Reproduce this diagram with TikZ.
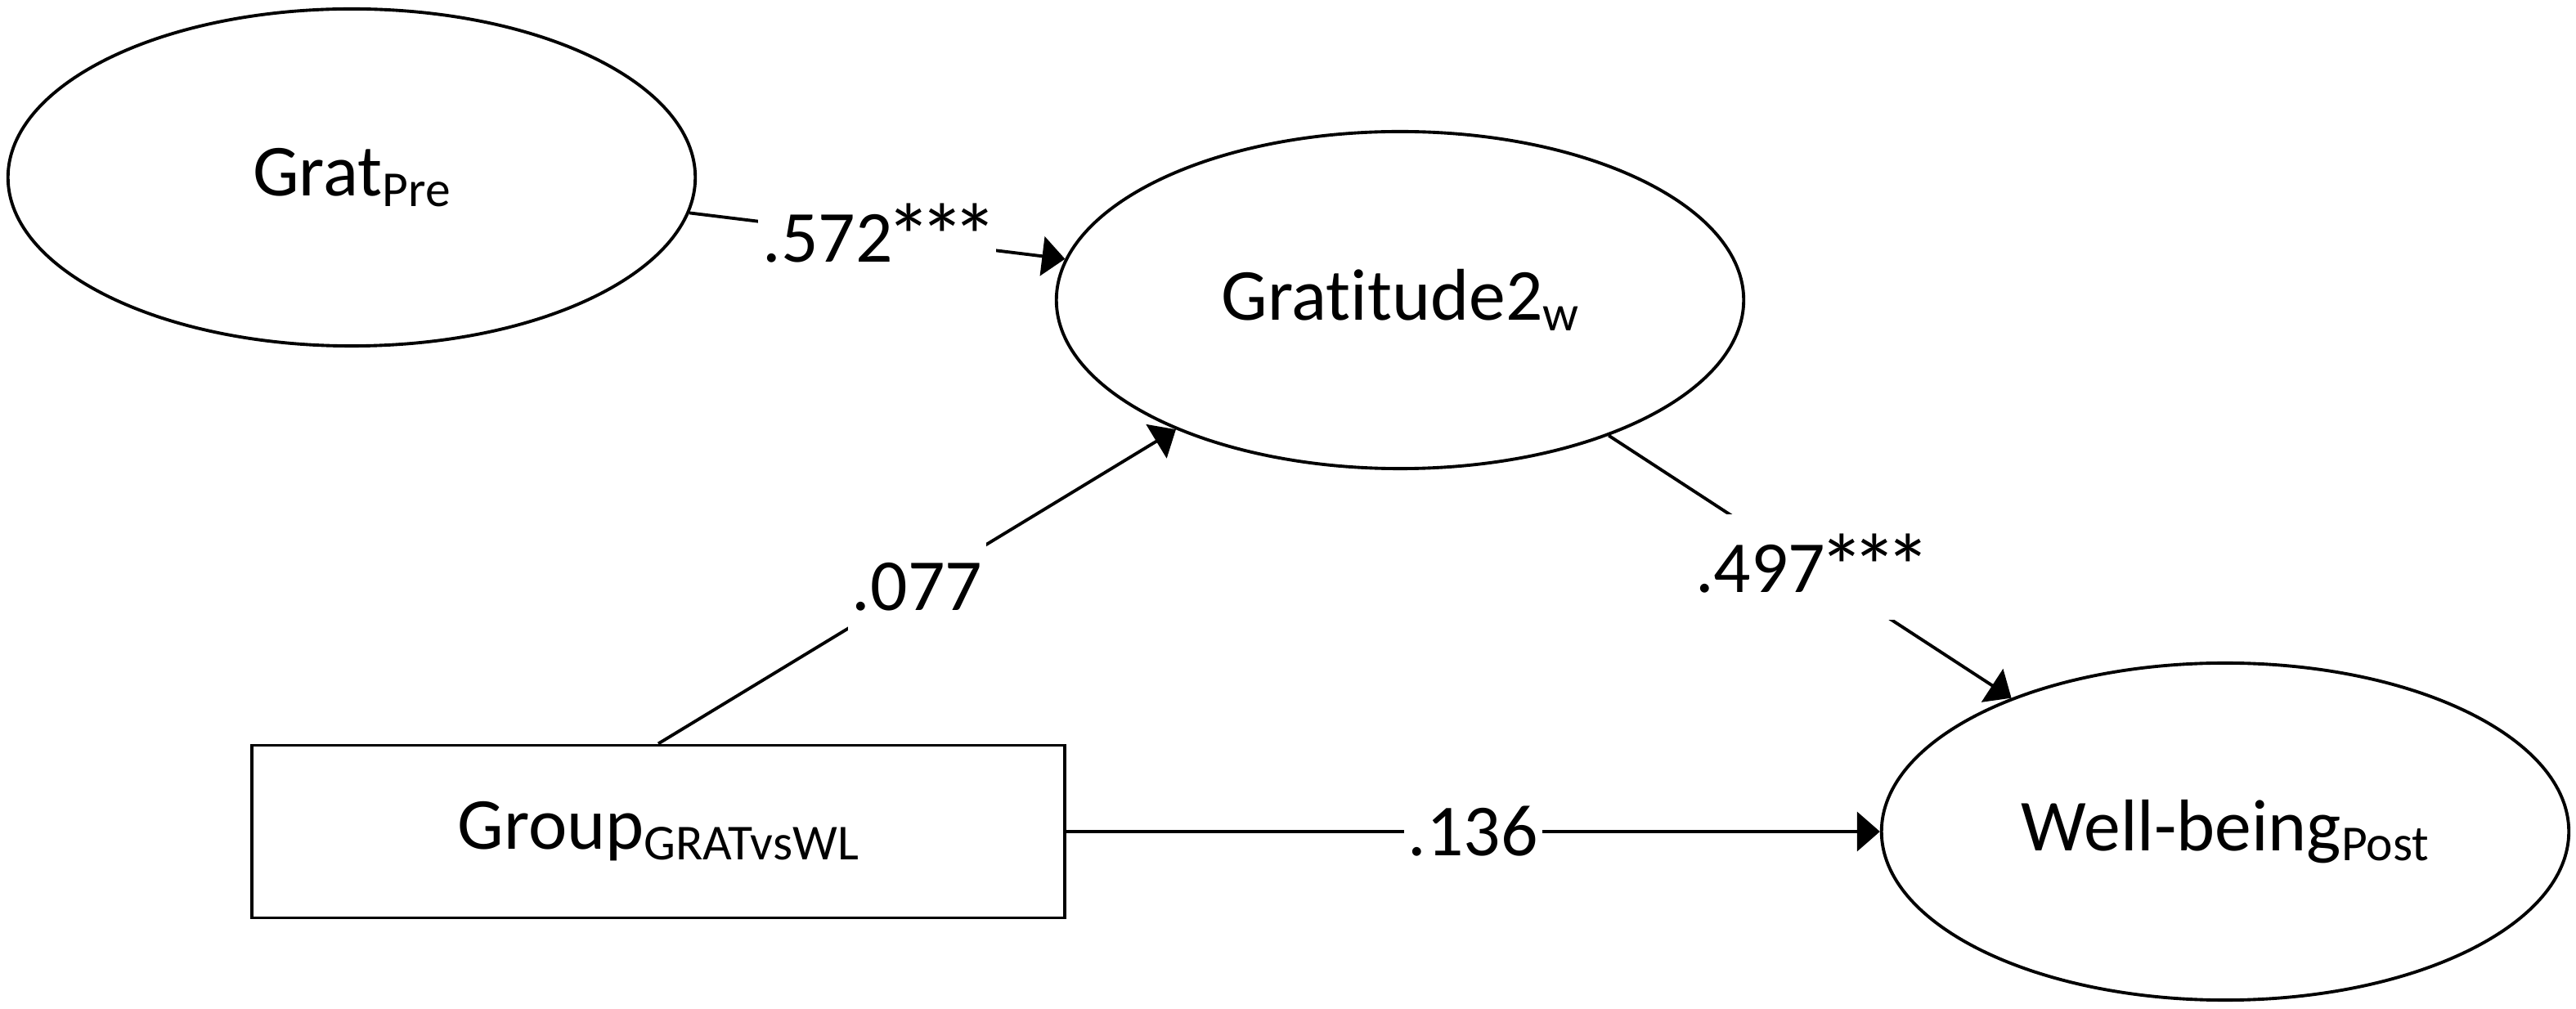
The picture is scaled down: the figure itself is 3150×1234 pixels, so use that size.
\documentclass[tikz,border=0pt]{standalone}
\usepackage{fontspec}
\setmainfont{Carlito}[Ligatures=NoCommon]
\usetikzlibrary{shapes.geometric,arrows.meta}
\newcommand{\subsc}[1]{\raisebox{-0.14em}{\fontsize{17.5pt}{20pt}\selectfont #1}}
\newcommand{\sig}{\makebox[0.45em]{\raisebox{-0.09em}{\scalebox{1.25}{*}}}}
\begin{document}
\begin{tikzpicture}[x=0.01cm,y=-0.01cm,
  lat/.style={ellipse, draw, line width=1.1pt, minimum width=8.4cm, minimum height=4.12cm, inner sep=0pt, font=\fontsize{25.5pt}{30pt}\selectfont},
  obs/.style={rectangle, draw, line width=1.1pt, minimum width=9.93cm, minimum height=2.11cm, inner sep=0pt, font=\fontsize{25.5pt}{30pt}\selectfont},
  pathline/.style={line width=1.1pt, -{Triangle[length=0.28cm,width=0.48cm]}},
  coef/.style={fill=white, inner xsep=1.5pt, inner ysep=7pt, font=\fontsize{25.5pt}{30pt}\selectfont}]
\useasboundingbox (0,0) rectangle (3150,1234);
\fill[white] (0,0) rectangle (3150,1234);
\node[lat] (pre) at (430,217) {Grat\subsc{Pre}};
\node[lat] (g2) at (1712,367) {Gratitude2\subsc{w}};
\node[obs] (grp) at (805,1017) {Group\subsc{GRATvsWL}};
\node[lat] (wb) at (2721,1017) {Well-being\subsc{Post}};
\draw[pathline] (pre.-6) -- node[coef]{.572\sig\sig\sig} (g2.173);
\draw[pathline] (grp.north) -- node[coef]{.077} (g2.210);
\draw[pathline] (g2.-33) -- node[coef]{.497\sig\sig\sig} (wb.148);
\draw[pathline] (grp.east) -- node[coef]{.136} (wb.west);
\end{tikzpicture}
\end{document}
